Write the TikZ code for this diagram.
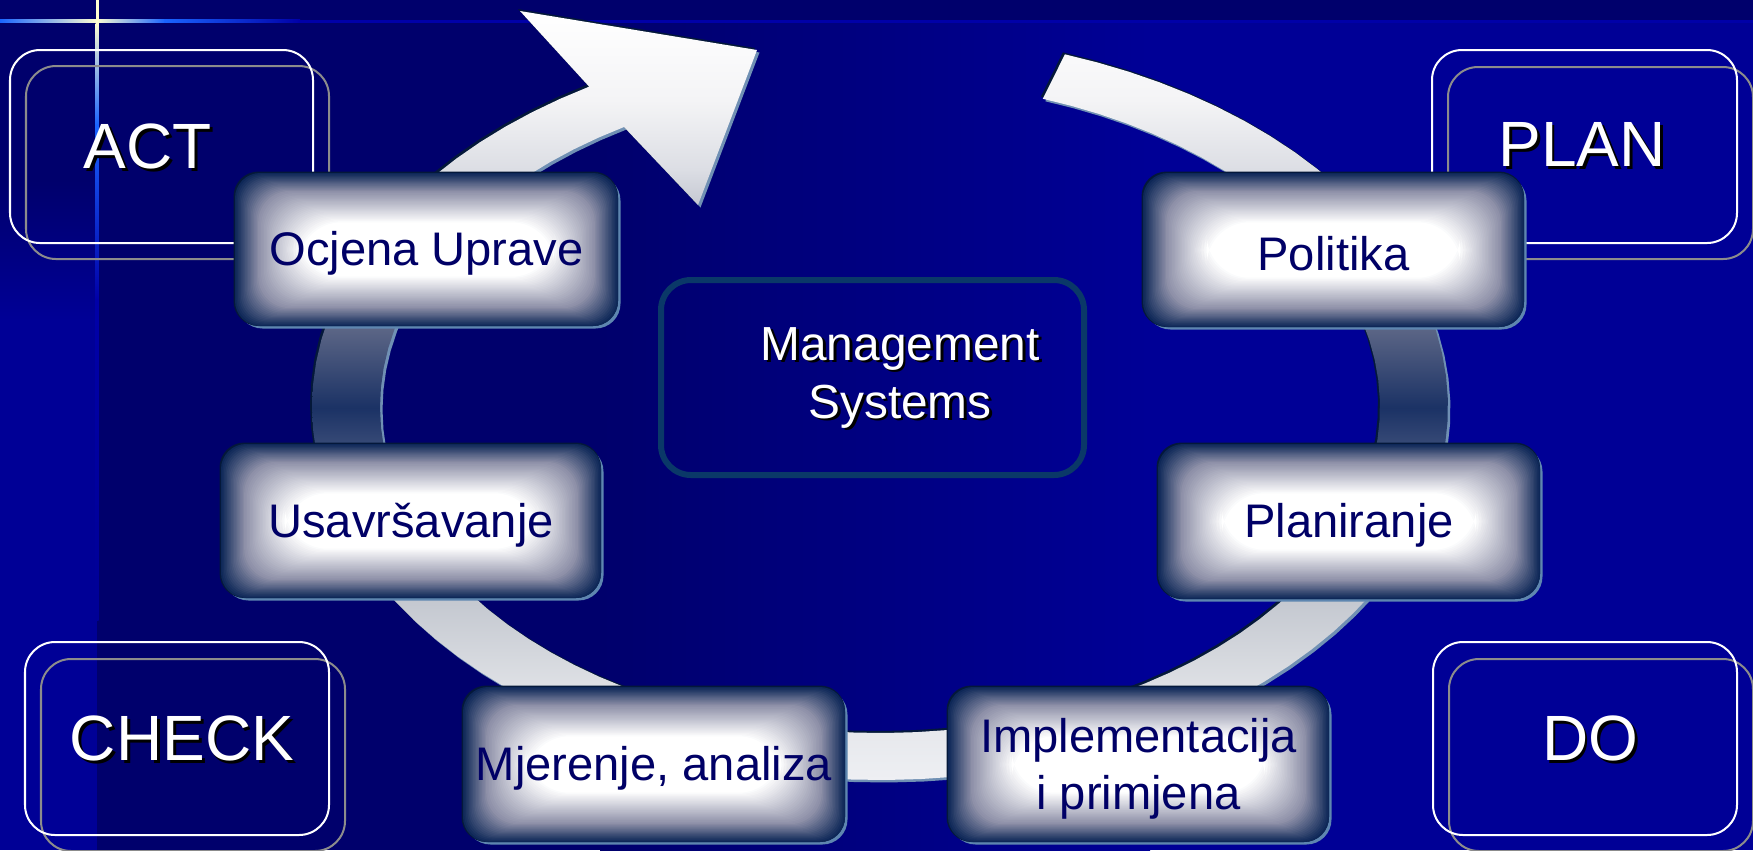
\documentclass[tikz,border=0pt]{standalone}
\usepackage{fontspec}
\setmainfont{Liberation Sans}
\usepackage{tikz}

\definecolor{bgdark}{HTML}{00006C}
\definecolor{bgblue}{HTML}{000096}
\definecolor{linepale}{HTML}{FFFFD2}
\definecolor{lineblue}{HTML}{1A64FF}
\definecolor{linedark}{HTML}{0000A8}
\definecolor{framegray}{HTML}{8C8C8C}
\definecolor{boxedge}{HTML}{0E2858}
\definecolor{boxgray}{HTML}{8E90A8}
\definecolor{boxlite}{HTML}{5E86B0}
\definecolor{boxink}{HTML}{000066}
\definecolor{msframe}{HTML}{0A3868}
\definecolor{ringdark}{HTML}{04183A}
\definecolor{ringlite}{HTML}{7090B4}
\definecolor{ringa}{HTML}{EEEFF3}
\definecolor{ringb}{HTML}{E2E4E8}
\definecolor{ringc}{HTML}{C4C8D0}
\definecolor{ringd}{HTML}{8890A8}
\definecolor{ringe}{HTML}{43547E}
\definecolor{ringf}{HTML}{1B3265}
\definecolor{ringg}{HTML}{5C6686}
\definecolor{ringh}{HTML}{A8ACBC}
\definecolor{ringi}{HTML}{DCDEE4}
\definecolor{ringj}{HTML}{F4F4F6}

\pgfdeclareverticalshading{ringshade}{100bp}{color(0bp)=(ringa); color(25bp)=(ringa);
  color(30.2bp)=(ringb); color(36.7bp)=(ringc); color(41.9bp)=(ringd);
  color(45.8bp)=(ringe); color(49.2bp)=(ringf); color(54.4bp)=(ringg);
  color(59.5bp)=(ringh); color(64.7bp)=(ringi); color(69.2bp)=(ringj);
  color(75bp)=(white); color(100bp)=(white)}

% white text with a small black drop shadow
\newcommand{\shadowed}[1]{\makebox[0pt][l]{\hspace{0.8pt}\raisebox{-0.8pt}{\color{black}#1}}#1}

% the circular arrow, in pixel coordinates
\newcommand{\ringpath}{plot[domain=-71:239.2,samples=90] ({880+568*cos(\x)},{407+373*sin(\x)})
  -- (520,11) -- (757,50) -- (698,205)
  -- plot[domain=239.2:-71,samples=90] ({880+500*cos(\x)},{407+326*sin(\x)}) -- cycle}

% glossy stage box: name, x1, y1, x2, y2, text
\newcommand{\stagebox}[6]{%
  \fill[boxlite,rounded corners=0.25cm] (#2+2.5,#3+2.5) rectangle (#4+2.5,#5+2.5);
  \fill[ringdark,rounded corners=0.25cm] (#2-1.5,#3-1.5) rectangle (#4,#5);
  \foreach \i in {0,...,44}{
    \pgfmathtruncatemacro\t{\i<16 ? 100*\i/16 : 100*(\i-16)/28}
    \pgfmathsetmacro\r{0.25+0.004*\i}
    \ifnum\i<16 \def\boxcol{boxgray!\t!boxedge}\else\def\boxcol{white!\t!boxgray}\fi
    \fill[fill=\boxcol,rounded corners=\r cm] (#2+1.45*\i,#3+1.12*\i) rectangle (#4-1.45*\i,#5-1.12*\i);
  }
  \node[stagetext] (#1) at ({(#2+#4)/2},{(#3+#5)/2+4}) {#6};
}

\begin{document}
\begin{tikzpicture}[x=0.01cm,y=-0.01cm,
  frame/.style={line width=0.02cm,rounded corners=0.3cm},
  pdcatext/.style={text=white,font=\fontsize{18.2}{20}\selectfont},
  stagetext/.style={text=boxink,align=center,font=\fontsize{13.4}{14}\selectfont}]
\useasboundingbox (0,0) rectangle (1753,850);

% background
\fill[bgdark] (0,0) rectangle (1753,850);
\shade[left color=bgdark,right color=bgblue] (600,21) rectangle (1150,850);
\fill[bgblue] (1149,21) rectangle (1753,850);
\shade[top color=bgdark,bottom color=bgblue] (0,180) rectangle (97,320);
\fill[bgblue] (0,319) rectangle (97,850);
\shade[left color=lineblue,right color=linepale] (0,19.5) rectangle (97,22.5);
\shade[left color=linepale,right color=lineblue] (96,19.5) rectangle (165,22.5);
\shade[left color=lineblue,right color=linedark] (164,19.5) rectangle (300,22.5);
\fill[linedark] (299,19.5) rectangle (1753,22.5);
\fill[linepale] (95.5,0) rectangle (98.5,24);
\shade[top color=linepale,bottom color=lineblue] (95.5,23) rectangle (98.5,125);
\shade[top color=lineblue,bottom color=linedark] (95.5,124) rectangle (98.5,300);
\shade[top color=linedark,bottom color=bgblue] (95.5,299) rectangle (98.5,620);

% PDCA frames
\draw[frame,framegray] (26,66) rectangle (329,259);
\draw[frame,white] (10,50) rectangle (313,243);
\draw[frame,framegray] (1448,67) rectangle (1753,259);
\draw[frame,white] (1432,50) rectangle (1737,243);
\draw[frame,framegray] (41,659) rectangle (345,851);
\draw[frame,white] (25,642) rectangle (329,835);
\draw[frame,framegray] (1449,659) rectangle (1753,851);
\draw[frame,white] (1433,642) rectangle (1737,835);
\node[pdcatext] (act) at (148,148) {\shadowed{ACT}};
\node[pdcatext] (plan) at (1582,146) {\shadowed{PLAN}};
\node[pdcatext] (check) at (182,740) {\shadowed{CHECK}};
\node[pdcatext] (do) at (1590,740) {\shadowed{DO}};

% circular arrow
\begin{scope}[shift={(2.5,2.5)}] \fill[ringlite] \ringpath; \end{scope}
\begin{scope}[shift={(-2,-2)}] \fill[ringdark] \ringpath; \end{scope}
\shade[shading=ringshade] \ringpath;

% centre
\draw[msframe,line width=0.06cm,rounded corners=0.3cm] (661,280) rectangle (1084,475);
\node[text=white,align=center,font=\fontsize{13.6}{16.5}\selectfont] (ms) at (900,379)
  {\shadowed{Management}\\\shadowed{Systems}};

% stages
\stagebox{ocjena}{235}{173}{618}{326}{Ocjena Uprave}
\stagebox{politika}{1143}{173}{1524}{327}{Politika}
\stagebox{usavr}{221}{444}{601}{598}{Usavršavanje}
\stagebox{plan2}{1158}{444}{1540}{599}{Planiranje}
\stagebox{mjer}{463}{687}{845}{842}{Mjerenje, analiza}
\stagebox{impl}{948}{687}{1329}{842}{Implementacija\\[2.2pt]i primjena}
\end{tikzpicture}
\end{document}
